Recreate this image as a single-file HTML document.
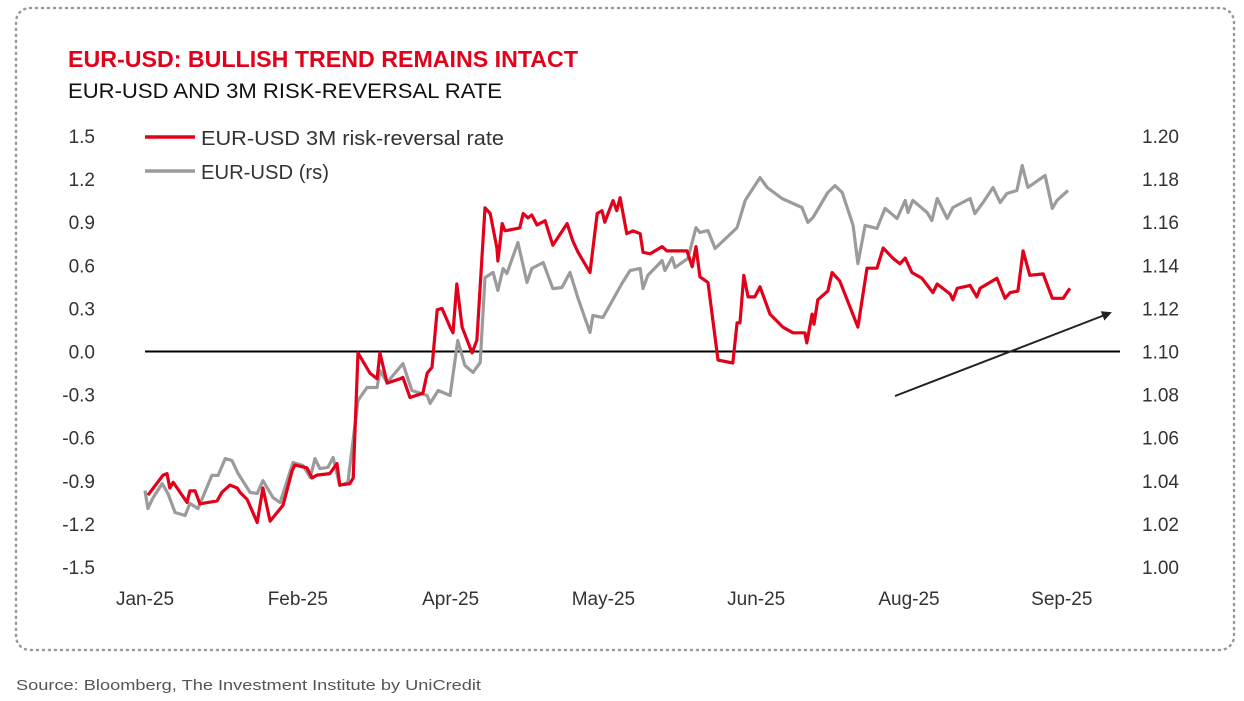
<!DOCTYPE html>
<html><head><meta charset="utf-8"><style>
body{margin:0;background:#fff;width:1244px;height:696px;overflow:hidden;font-family:"Liberation Sans",sans-serif}
</style></head><body>
<svg id="chart" width="1244" height="696" xmlns="http://www.w3.org/2000/svg">
<rect x="16" y="8" width="1218" height="642" rx="14" fill="none" stroke="#999" stroke-width="2.5" stroke-dasharray="1 5" stroke-linecap="round"/>
<text x="68" y="67" font-size="23" font-weight="bold" fill="#e2001a" textLength="510" lengthAdjust="spacingAndGlyphs">EUR-USD: BULLISH TREND REMAINS INTACT</text>
<text x="68" y="98" font-size="21" fill="#111" textLength="434" lengthAdjust="spacingAndGlyphs">EUR-USD AND 3M RISK-REVERSAL RATE</text>
<text x="16" y="690" font-size="15" fill="#555" textLength="465" lengthAdjust="spacingAndGlyphs">Source: Bloomberg,  The Investment Institute by UniCredit</text>
<g id="axes"></g><g id="series"></g>
<g>
<line x1="145" y1="137" x2="195" y2="137" stroke="#e2001a" stroke-width="3.5"/>
<text x="201" y="145" font-size="20" fill="#333" textLength="303" lengthAdjust="spacingAndGlyphs">EUR-USD 3M risk-reversal rate</text>
<line x1="145" y1="171" x2="195" y2="171" stroke="#9b9b9b" stroke-width="3.5"/>
<text x="201" y="179" font-size="20" fill="#333" textLength="128" lengthAdjust="spacingAndGlyphs">EUR-USD (rs)</text>
</g>
<defs><marker id="ah" markerWidth="10" markerHeight="10" refX="8" refY="5" orient="auto" markerUnits="userSpaceOnUse"><path d="M0,0 L10,5 L0,10 z" fill="#222"/></marker></defs>
<line x1="895" y1="396" x2="1110" y2="313" stroke="#222" stroke-width="2" marker-end="url(#ah)"/>
</svg>
<script>
const leftTicks=[1.5,1.2,0.9,0.6,0.3,0.0,-0.3,-0.6,-0.9,-1.2,-1.5];
const rightTicks=[1.20,1.18,1.16,1.14,1.12,1.10,1.08,1.06,1.04,1.02,1.00];
const monthLabels=["Jan-25","Feb-25","Apr-25","May-25","Jun-25","Aug-25","Sep-25"];
const monthDays=[0,32,64,96,128,160,192];
const rrDays=[0.6,3.8,4.6,5.2,5.9,8.8,9.4,10.5,11.5,15.1,16.1,17.8,19.3,19.9,21.4,23.5,24.7,26.2,28.9,30.8,31.4,33.9,35.0,36.0,38.7,40.2,40.8,42.9,43.6,44.6,47.1,48.6,49.2,50.7,53.4,54.0,55.5,58.2,59.1,60.1,61.2,62.2,63.9,64.5,65.3,66.4,68.5,69.5,71.2,72.3,73.7,73.9,74.8,75.4,78.5,79.2,80.2,81.0,82.1,83.8,85.4,88.4,89.6,90.7,93.2,94.7,95.7,96.3,98.0,98.8,99.5,100.9,102.2,103.7,104.3,105.8,108.3,109.3,113.5,114.6,115.4,116.2,117.9,120.0,123.1,124.0,124.6,125.4,126.3,127.7,128.8,130.9,133.6,135.7,138.2,138.6,139.7,140.1,140.9,143.0,143.9,145.5,149.3,151.2,153.3,154.6,156.6,158.1,159.2,160.6,162.7,165.0,165.9,168.6,169.2,170.1,172.8,174.2,174.9,178.4,180.1,181.2,182.8,183.9,185.3,188.1,190.0,192.3,193.7];
const rrValues=[-1.00,-0.86,-0.85,-0.95,-0.91,-1.05,-0.97,-0.97,-1.06,-1.04,-0.98,-0.93,-0.95,-0.98,-1.03,-1.19,-0.95,-1.18,-1.07,-0.83,-0.79,-0.81,-0.88,-0.86,-0.85,-0.78,-0.93,-0.92,-0.88,-0.01,-0.15,-0.19,-0.01,-0.22,-0.19,-0.18,-0.32,-0.29,-0.15,-0.11,0.29,0.30,0.17,0.13,0.47,0.17,-0.01,0.08,1.00,0.96,0.72,0.63,0.89,0.84,0.86,0.96,0.93,0.95,0.88,0.91,0.74,0.89,0.77,0.69,0.55,0.96,0.98,0.90,1.05,0.98,1.07,0.82,0.84,0.82,0.69,0.68,0.73,0.70,0.70,0.59,0.73,0.52,0.48,-0.06,-0.08,0.20,0.20,0.53,0.38,0.38,0.45,0.26,0.17,0.13,0.13,0.06,0.26,0.19,0.36,0.42,0.55,0.49,0.17,0.58,0.58,0.72,0.65,0.61,0.65,0.55,0.51,0.41,0.47,0.40,0.36,0.44,0.46,0.38,0.44,0.51,0.37,0.41,0.42,0.70,0.53,0.54,0.37,0.37,0.44];
const fxDays=[0,0.6,1.7,3.6,4.8,6.3,8.4,9.4,11.1,14.0,15.3,16.8,18.2,19.5,22.0,23.5,24.7,26.8,28.3,31.0,33.1,34.6,35.6,36.6,38.3,39.4,40.8,42.5,44.6,46.5,48.6,49.2,50.7,54.0,55.9,59.1,59.7,61.4,63.9,65.5,67.0,68.7,70.2,71.2,72.9,73.9,75.0,75.8,78.1,80.0,81.0,83.4,85.4,87.3,89.0,90.7,93.2,93.8,95.9,99.9,101.6,103.7,104.3,105.3,108.3,108.9,110.4,111.0,113.7,115.4,116.2,117.9,119.4,124.0,125.7,128.8,130.3,133.4,137.6,138.8,139.9,143.0,144.5,146.0,148.3,149.3,150.8,153.3,155.0,157.5,159.2,159.8,160.8,163.8,164.8,165.9,168.0,169.2,172.8,173.8,175.5,177.6,179.1,180.5,182.6,183.7,184.9,188.5,190.0,191.0,193.3];
const fxValues=[1.0355,1.0271,1.0322,1.0387,1.0341,1.0253,1.0239,1.0295,1.0271,1.0425,1.0425,1.0503,1.0494,1.0434,1.0346,1.0341,1.0401,1.0322,1.0299,1.0485,1.0471,1.0415,1.0503,1.0457,1.0462,1.0508,1.0378,1.0392,1.0773,1.0833,1.0833,1.0912,1.0856,1.0944,1.0819,1.0796,1.0759,1.0819,1.0796,1.1051,1.0935,1.0903,1.0949,1.1343,1.1367,1.1283,1.1385,1.1362,1.1506,1.1320,1.1385,1.1413,1.1292,1.1297,1.1367,1.1246,1.1088,1.1167,1.1158,1.1316,1.1376,1.1385,1.1292,1.1353,1.1422,1.1376,1.1436,1.1390,1.1432,1.1575,1.1552,1.1561,1.1478,1.1575,1.1701,1.1807,1.1761,1.1710,1.1668,1.1599,1.1622,1.1738,1.1770,1.1738,1.1585,1.1408,1.1585,1.1571,1.1664,1.1617,1.1701,1.1645,1.1701,1.1645,1.1608,1.1710,1.1617,1.1668,1.1710,1.1640,1.1691,1.1761,1.1691,1.1733,1.1747,1.1863,1.1761,1.1817,1.1664,1.1701,1.1747];

const NS="http://www.w3.org/2000/svg";
const xS=d=>145+d*4.775;
const yL=v=>351.5-v*143.7;
const yR=v=>351.5-(v-1.10)*2155;
const axes=document.getElementById('axes'), ser=document.getElementById('series');
function mk(tag,attrs,parent,txt){const e=document.createElementNS(NS,tag);for(const k in attrs)e.setAttribute(k,attrs[k]);if(txt!==undefined)e.textContent=txt;parent.appendChild(e);return e;}
leftTicks.forEach(v=>{
  const t=mk('text',{x:95,y:yL(v)+7,'font-size':19,fill:'#333','text-anchor':'end'},axes,v.toFixed(1));
  
  
});
rightTicks.forEach(v=>{
  const t=mk('text',{x:1142,y:yR(v)+7,'font-size':19,fill:'#333'},axes,v.toFixed(2));
  
  
});
monthLabels.forEach((m,i)=>{
  const t=mk('text',{x:xS(monthDays[i]),y:605,'font-size':19,fill:'#333','text-anchor':'middle'},axes,m);
  
  
});
const zl=mk('line',{x1:145,x2:1120,y1:yL(0),y2:yL(0),stroke:'#000','stroke-width':2},axes);


function path(days,vals,ys){return days.map((d,i)=>(i?'L':'M')+xS(d).toFixed(1)+','+ys(vals[i]).toFixed(1)).join(' ');}
const g=mk('path',{d:path(fxDays,fxValues,yR),fill:'none',stroke:'#9b9b9b','stroke-width':3.2,'stroke-linejoin':'round'},ser);


const r=mk('path',{d:path(rrDays,rrValues,yL),fill:'none',stroke:'#e2001a','stroke-width':3.2,'stroke-linejoin':'round'},ser);


</script>
</body></html>
